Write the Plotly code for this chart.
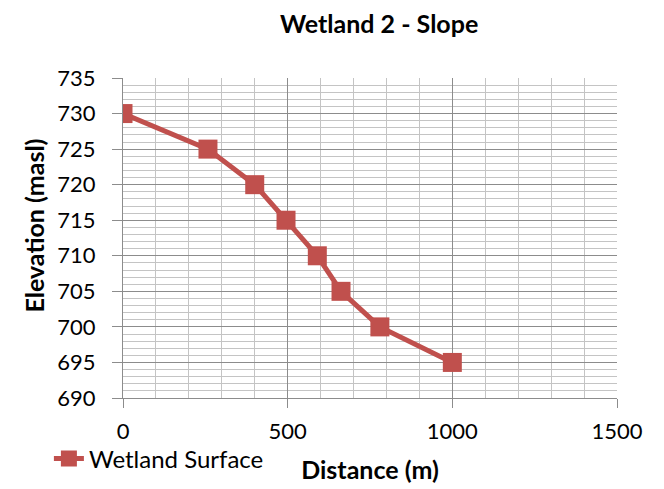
import plotly.graph_objects as go

distance = [0, 258, 400, 495, 590, 662, 780, 1000]
elevation = [730, 725, 720, 715, 710, 705, 700, 695]
series_name = "Wetland Surface"
title = "Wetland 2 - Slope"
x_title = "Distance (m)"
y_title = "Elevation (masl)"

FONT = "Lato"
color = "#C0504D"

fig = go.Figure()
fig.add_trace(go.Scatter(
    x=distance, y=elevation, mode="lines+markers", name=series_name,
    line=dict(color=color, width=5),
    marker=dict(symbol="square", size=19, color=color),
))

fig.update_layout(
    template="none",
    width=664, height=489,
    margin=dict(l=115, r=55, t=70, b=99, autoexpand=False),
    paper_bgcolor="white", plot_bgcolor="white",
    font=dict(family=FONT, size=22, color="black"),
    title=dict(text="<b>" + title + "</b>", x=0.559, xanchor="center", y=0.984, yanchor="top",
               pad=dict(t=0, b=0), font=dict(family=FONT, size=25, color="black")),
    showlegend=True,
    legend=dict(orientation="h", x=-0.15, xanchor="left", y=-0.19, yanchor="middle",
                font=dict(family=FONT, size=24, color="black"), bgcolor="rgba(0,0,0,0)",
                borderwidth=0),
    annotations=[dict(
        text="<b>" + y_title + "</b>", textangle=-90,
        xref="paper", yref="paper", x=-0.181, y=0.5375,
        xanchor="center", yanchor="middle", showarrow=False,
        font=dict(family=FONT, size=25, color="black"),
    )],
)
fig.update_xaxes(
    range=[0, 1500], dtick=500, tick0=0, automargin=False,
    showgrid=True, gridcolor="#8C8C8C", gridwidth=1.3,
    minor=dict(dtick=100, showgrid=True, gridcolor="#C4C4C4", gridwidth=1.2),
    ticks="outside", ticklen=9, tickcolor="#8C8C8C", tickwidth=1.3,
    showline=True, linecolor="#8C8C8C", linewidth=1.3, mirror=False,
    zeroline=False, ticklabelstandoff=4,
    title=dict(text="<b>" + x_title + "</b>", font=dict(family=FONT, size=25, color="black"), standoff=18),
)
fig.update_yaxes(
    range=[690, 735], dtick=5, tick0=690, automargin=False,
    showgrid=True, gridcolor="#8C8C8C", gridwidth=1.3,
    minor=dict(dtick=1, showgrid=True, gridcolor="#C4C4C4", gridwidth=1.2),
    ticks="outside", ticklen=10, tickcolor="#8C8C8C", tickwidth=1.3,
    showline=True, linecolor="#8C8C8C", linewidth=1.3,
    zeroline=False, ticklabelstandoff=12,
)

fig.write_html("out.html")
